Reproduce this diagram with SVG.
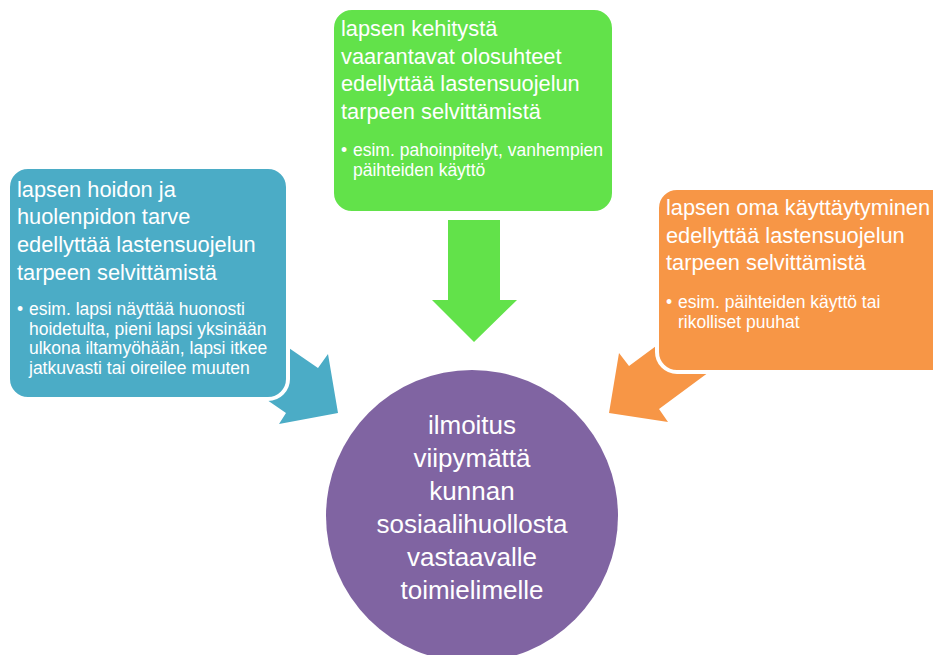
<svg xmlns="http://www.w3.org/2000/svg" width="933" height="655" viewBox="0 0 933 655">
<style>
.box{stroke:#fff;stroke-width:4}
.t{font-family:"Liberation Sans",Arial,sans-serif;fill:#fff}
.h{font-size:21.8px}
.b{font-size:17.5px}
.c{font-size:26px;text-anchor:middle}
</style>
<rect width="933" height="655" fill="#fff"/>
<g id="connectors">
<polygon id="arrow-blue" fill="#4BACC6" points="248,320 318,368 328,354 338,413 279,424 286,413 216,365"/>
<polygon id="arrow-green" fill="#62E24A" points="448,220 500,220 500,300 517,300 474,342 432,300 448,300"/>
<polygon id="arrow-orange" fill="#F79646" points="698,315 629,366 619,353 609,413 668,422 659,409 728,358"/>
</g>
<g id="node-blue">
<rect class="box" x="8" y="167" width="280" height="232" rx="20" fill="#4BACC6"/>
<text class="t h" x="17" y="196.5">lapsen hoidon ja</text>
<text class="t h" x="17" y="224.2">huolenpidon tarve</text>
<text class="t h" x="17" y="251.9">edellyttää lastensuojelun</text>
<text class="t h" x="17" y="279.6">tarpeen selvittämistä</text>
<text class="t b" x="17" y="315">•</text>
<text class="t b" x="29" y="315">esim. lapsi näyttää huonosti</text>
<text class="t b" x="29" y="334.5">hoidetulta, pieni lapsi yksinään</text>
<text class="t b" x="29" y="354">ulkona iltamyöhään, lapsi itkee</text>
<text class="t b" x="29" y="373.5">jatkuvasti tai oireilee muuten</text>
</g>
<g id="node-green">
<rect class="box" x="332" y="8" width="282" height="205" rx="20" fill="#62E24A"/>
<text class="t h" x="341" y="36">lapsen kehitystä</text>
<text class="t h" x="341" y="63.7">vaarantavat olosuhteet</text>
<text class="t h" x="341" y="91.4">edellyttää lastensuojelun</text>
<text class="t h" x="341" y="119.1">tarpeen selvittämistä</text>
<text class="t b" x="341" y="156">•</text>
<text class="t b" x="353" y="156">esim. pahoinpitelyt, vanhempien</text>
<text class="t b" x="353" y="175.5">päihteiden käyttö</text>
</g>
<g id="node-orange">
<rect class="box" x="657" y="188" width="300" height="184" rx="20" fill="#F79646"/>
<text class="t h" x="666" y="215">lapsen oma käyttäytyminen</text>
<text class="t h" x="666" y="242.7">edellyttää lastensuojelun</text>
<text class="t h" x="666" y="270.4">tarpeen selvittämistä</text>
<text class="t b" x="666" y="308">•</text>
<text class="t b" x="678" y="308">esim. päihteiden käyttö tai</text>
<text class="t b" x="678" y="327.5">rikolliset puuhat</text>
</g>
<g id="node-circle">
<circle cx="472" cy="516" r="146" fill="#8064A2"/>
<text class="t c" x="472" y="434">ilmoitus</text>
<text class="t c" x="472" y="467">viipymättä</text>
<text class="t c" x="472" y="500">kunnan</text>
<text class="t c" x="472" y="533">sosiaalihuollosta</text>
<text class="t c" x="472" y="566">vastaavalle</text>
<text class="t c" x="472" y="599">toimielimelle</text>
</g>
</svg>
